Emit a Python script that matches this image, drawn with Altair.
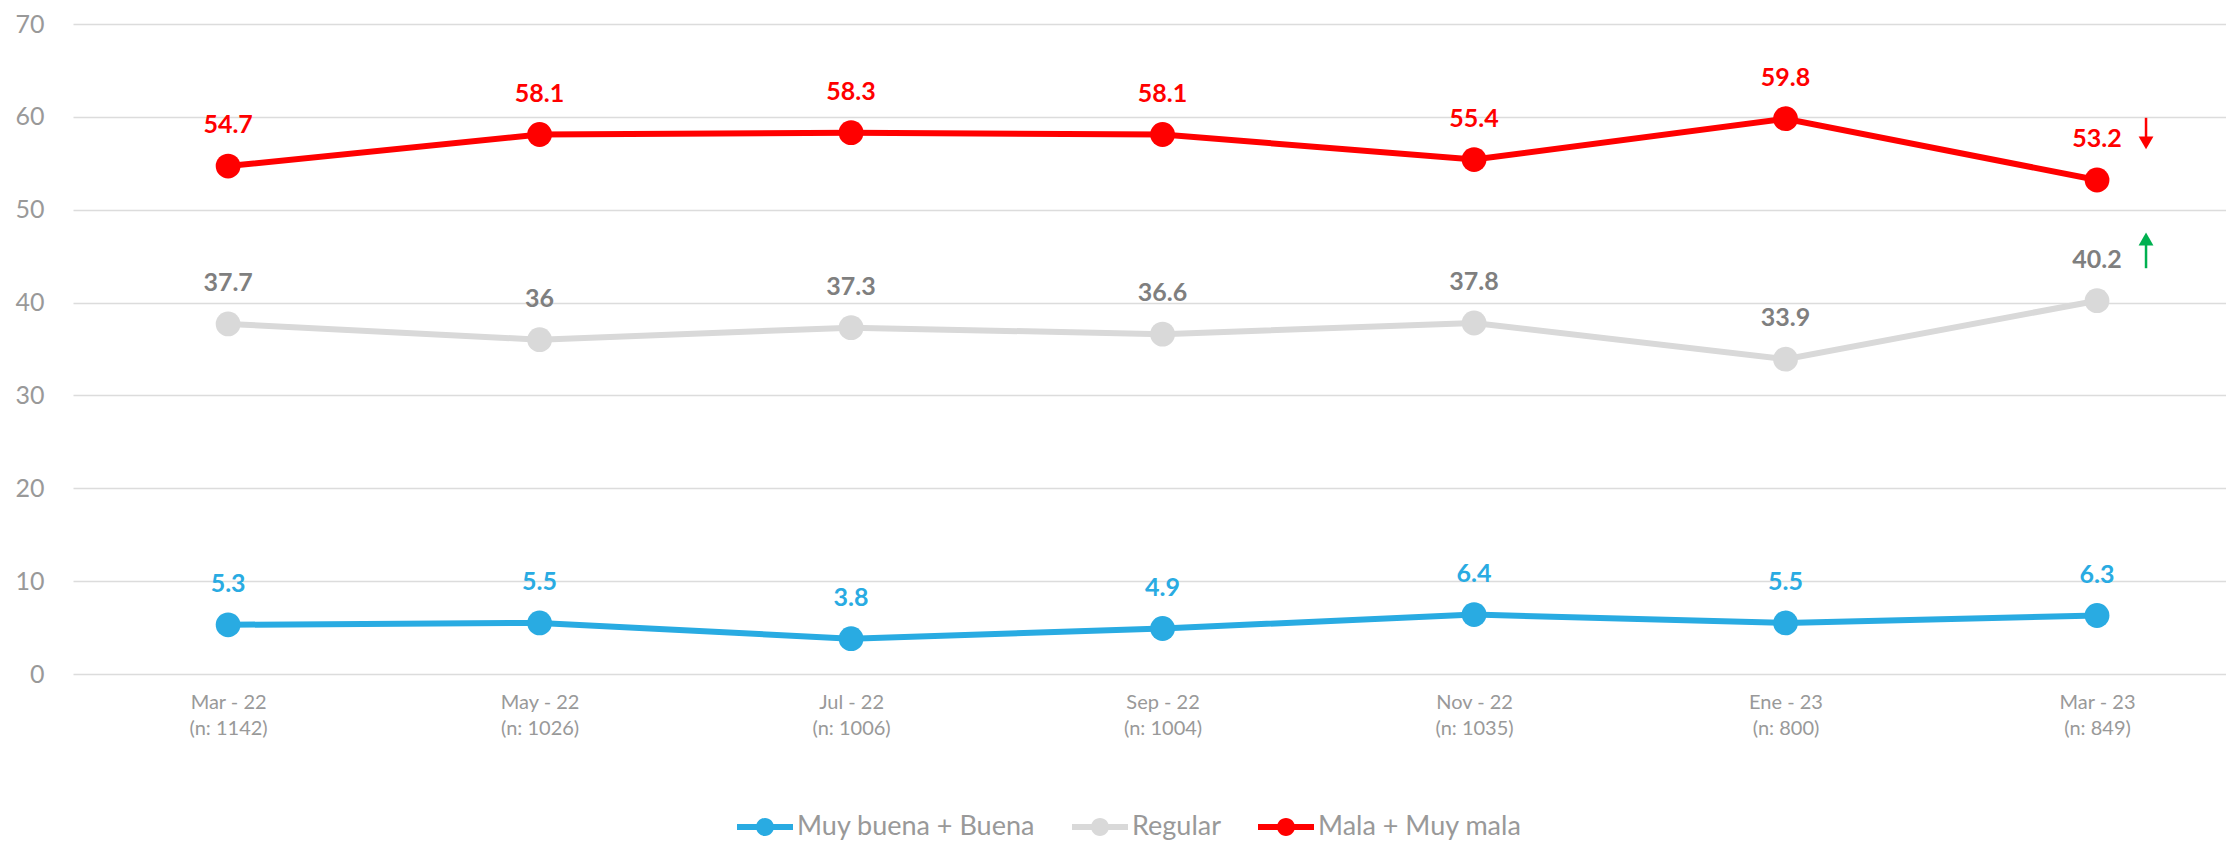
import altair as alt
import pandas as pd

# ---- data ----
periods = ["Mar - 22", "May - 22", "Jul - 22", "Sep - 22", "Nov - 22", "Ene - 23", "Mar - 23"]
sample_sizes = ["(n: 1142)", "(n: 1026)", "(n: 1006)", "(n: 1004)", "(n: 1035)", "(n: 800)", "(n: 849)"]
series_names = ["Muy buena + Buena", "Regular", "Mala + Muy mala"]
muy_buena_buena = [5.3, 5.5, 3.8, 4.9, 6.4, 5.5, 6.3]
regular = [37.7, 36, 37.3, 36.6, 37.8, 33.9, 40.2]
mala_muy_mala = [54.7, 58.1, 58.3, 58.1, 55.4, 59.8, 53.2]
line_colors = ["#29ABE2", "#D9D9D9", "#FF0000"]
label_colors = ["#29ABE2", "#7F7F7F", "#FF0000"]
y_ticks = [0, 10, 20, 30, 40, 50, 60, 70]

# change arrows next to the last period
arrow_period = "Mar - 23"
arrow_shapes = ["triangle-down", "triangle-up"]
arrow_shaft_from = [59.9, 43.7]
arrow_shaft_to = [57.6, 46.2]
arrow_head_at = [57.2, 46.85]
arrow_colors = ["#FF0000", "#00B050"]

# ---- tables ----
cats = [f"{p}|{n}" for p, n in zip(periods, sample_sizes)]
rows = []
for name, vals, lc in zip(series_names, [muy_buena_buena, regular, mala_muy_mala], label_colors):
    for c, v in zip(cats, vals):
        rows.append({"cat": c, "serie": name, "value": v, "label": f"{v:g}", "label_color": lc})
df = pd.DataFrame(rows)

arrow_cat = cats[periods.index(arrow_period)]
arrows = pd.DataFrame({
    "cat": [arrow_cat] * len(arrow_shapes),
    "y1": arrow_shaft_from,
    "y2": arrow_shaft_to,
    "head": arrow_head_at,
    "shape": arrow_shapes,
    "color": arrow_colors,
})

FONT = "Lato"

x_enc = alt.X(
    "cat:N",
    sort=cats,
    scale=alt.Scale(type="point", padding=0.456, align=0.546),
    axis=alt.Axis(
        title=None, domain=False, ticks=False, tickSize=0, grid=False,
        labelExpr="split(datum.label, '|')", labelFont=FONT, labelFontSize=20,
        labelColor="#999999", labelLineHeight=26, labelPadding=18, labelAngle=0,
    ),
)
y_scale = alt.Scale(domain=[0, 70], nice=False, zero=True)
y_enc = alt.Y(
    "value:Q",
    scale=y_scale,
    axis=alt.Axis(
        title=None, domain=False, ticks=False, tickSize=0, values=y_ticks,
        grid=True, gridColor="#DCDCDC", gridWidth=1.5,
        labelFont=FONT, labelFontSize=25, labelColor="#999999", labelPadding=29,
    ),
)
color_scale = alt.Scale(domain=series_names, range=line_colors)

legend_path = (
    "M-1,-0.107H-0.25V0.107H-1Z "
    "M0.25,-0.107H1V0.107H0.25Z "
    "M-0.32,0A0.32,0.32 0 1,1 0.32,0A0.32,0.32 0 1,1 -0.32,0Z"
)

base = alt.Chart(df).encode(x=x_enc, y=y_enc)

lines = base.mark_line(strokeWidth=6).encode(
    stroke=alt.Stroke("serie:N", scale=color_scale, legend=None)
)
points = base.mark_point(filled=True, size=615, opacity=1).encode(
    color=alt.Color(
        "serie:N", scale=color_scale,
        legend=alt.Legend(
            title=None, orient="none", direction="horizontal",
            legendX=664, legendY=775, padding=0,
            symbolType=legend_path, symbolSize=3136, symbolStrokeWidth=0,
            symbolOpacity=1, labelFont=FONT, labelFontSize=27, labelLimit=1000,
            labelColor="#999999", labelOffset=4, columnPadding=36,
        ),
    )
)
labels = base.mark_text(
    font=FONT, fontSize=25, fontWeight="bold", dy=-33, baseline="alphabetic", align="center"
).encode(
    text="label:N",
    fill=alt.Fill("label_color:N", scale=None),
)

arrow_base = alt.Chart(arrows).encode(x=x_enc)
shafts = arrow_base.mark_rule(strokeWidth=2.5, xOffset=49).encode(
    y=alt.Y("y1:Q", scale=y_scale), y2="y2:Q",
    stroke=alt.Stroke("color:N", scale=None),
)
heads = arrow_base.mark_point(filled=True, size=220, xOffset=49, opacity=1).encode(
    y=alt.Y("head:Q", scale=y_scale),
    shape=alt.Shape("shape:N", scale=None),
    fill=alt.Fill("color:N", scale=None),
)

chart = (
    alt.layer(lines, points, labels, shafts, heads)
    .resolve_scale(stroke="independent", fill="independent")
    .properties(
        width=2153, height=650,
        autosize=alt.AutoSizeParams(type="none"),
        padding={"left": 65, "top": 16, "right": 0, "bottom": 170},
    )
    .configure_view(stroke=None)
)

chart.save("out.html", embed_options={"renderer": "svg", "actions": False})
